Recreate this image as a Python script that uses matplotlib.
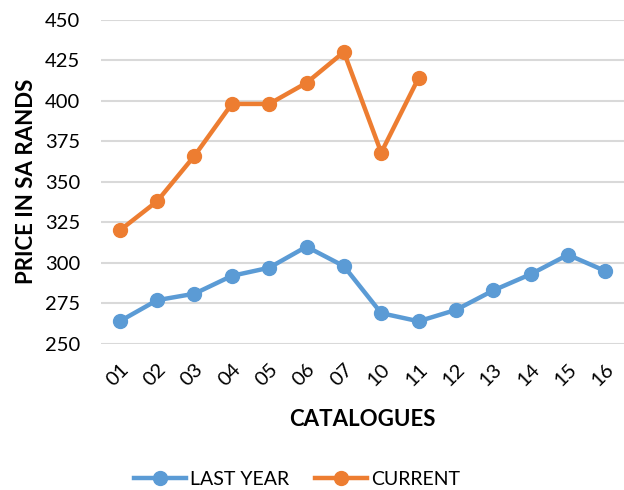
import matplotlib.pyplot as plt

# Data
catalogues = ['01', '02', '03', '04', '05', '06', '07', '10', '11', '12', '13', '14', '15', '16']
last_year = [264, 277, 281, 292, 297, 310, 298, 269, 264, 271, 283, 293, 305, 295]
current = [320, 338, 366, 398, 398, 411, 430, 368, 414]

plt.rcParams['font.family'] = ['Lato', 'DejaVu Sans']

fig = plt.figure(figsize=(6.24, 4.9), dpi=100)
ax = fig.add_axes([0.162, 0.298, 0.838, 0.662])

x = list(range(len(catalogues)))
ax.plot(x, last_year, color='#5B9BD5', lw=3.2, marker='o', ms=10, label='LAST YEAR')
ax.plot(x[:len(current)], current, color='#ED7D31', lw=3.2, marker='o', ms=10, label='CURRENT')

ax.set_ylim(250, 450)
ax.set_yticks(range(250, 451, 25))
ax.set_xlim(-0.5, len(catalogues) - 0.5)
ax.set_xticks(x)
ax.set_xticklabels(catalogues, rotation=45, ha='right', rotation_mode='anchor')
ax.grid(axis='y', color='#D9D9D9', lw=1.5)
ax.set_axisbelow(True)
for s in ax.spines.values():
    s.set_visible(False)
ax.tick_params(length=0, labelsize=14.5, colors='#000000')
ax.tick_params(axis='y', pad=15)
ax.tick_params(axis='x', pad=12)

ax.set_ylabel('PRICE IN SA RANDS', fontsize=16, fontweight='bold', labelpad=6)
ax.set_xlabel('CATALOGUES', fontsize=16, fontweight='bold', labelpad=14)

fig.legend(loc='center', bbox_to_anchor=(0.476, 0.022), ncol=2, frameon=False,
           fontsize=14, handlelength=2.7, columnspacing=1.3, handletextpad=0.2)

fig.savefig('out.png')
